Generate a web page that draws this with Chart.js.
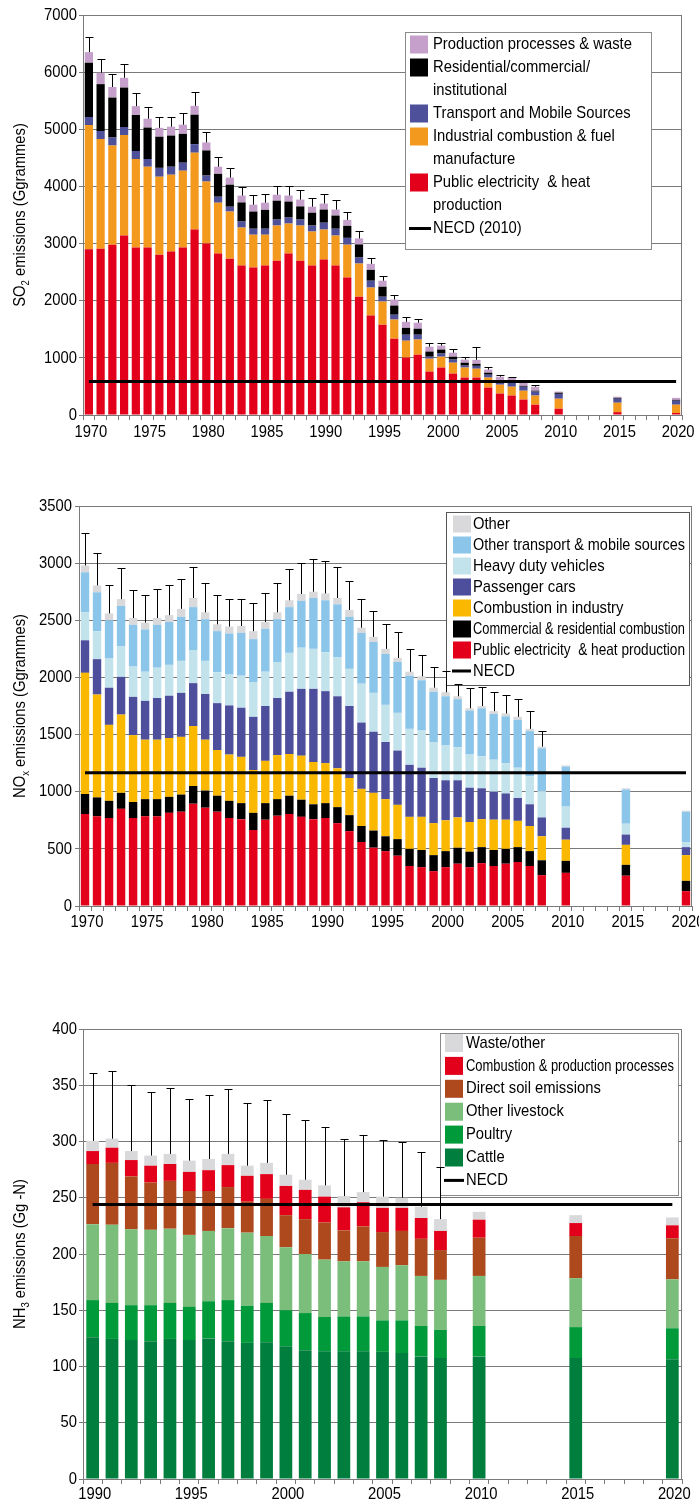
<!DOCTYPE html>
<html>
<head>
<meta charset="utf-8">
<script src="https://cdn.jsdelivr.net/npm/chart.js@4.4.1/dist/chart.umd.min.js"></script>
<style>
  body { margin: 0; width: 699px; height: 1503px; overflow: hidden; position: relative; background: #fff; }
  .panel { position: absolute; left: 0; }
</style>
</head>
<body>
<div class="panel" style="top:0"><canvas id="so2" width="699" height="445"></canvas></div>
<div class="panel" style="top:495px"><canvas id="nox" width="720" height="440"></canvas></div>
<div class="panel" style="top:1000px"><canvas id="nh3" width="699" height="503"></canvas></div>
<script>
var FONT = '"Liberation Sans", Arial, sans-serif';
var SIZE = 17;      // px
var SX = 0.87;      // horizontal squeeze, the original uses a narrow face

// ---- SO2 (Ggrammes) ----
var so2Years = [1970,1971,1972,1973,1974,1975,1976,1977,1978,1979,1980,1981,1982,1983,1984,1985,1986,1987,1988,1989,
  1990,1991,1992,1993,1994,1995,1996,1997,1998,1999,2000,2001,2002,2003,2004,2005,2006,2007,2008,2010,2015,2020];
var so2Public = [2900,2910,2980,3140,2930,2930,2805,2860,2930,3245, 3000,2825,2735,2615,2580,2615,2700,2825,2700,2615,
  2720,2615,2405,2070,1740,1580,1335,1005,1055,760, 830,725,655,655,480,375,340,270,180, 110,50,35];
var so2Industry = [2175,1920,1735,1760,1550,1415,1365,1345,1345,1345, 1085,890,825,665,575,540,615,525,615,595,
  525,525,575,580,490,405,335,295,265,225, 190,190,175,155,175,155,155,155,160, 175,165,145];
var so2Transport = [140,140,140,140,140,135,155,140,140,150, 105,105,85,105,105,105,105,105,105,105,
  120,120,120,105,120,85,85,105,85,35, 55,55,35,50,50,55,90,70,70, 85,70,70];
var so2Residential = [950,820,700,690,630,550,545,545,505,515, 440,400,385,335,300,330,330,280,230,225,
  230,230,210,230,190,175,160,120,105,90, 70,50,50,35,35,15,15,15,15, 20,15,15];
var so2Production = [185,200,185,170,155,155,155,155,160,155, 140,125,125,120,120,125,105,105,120,105,
  105,105,105,105,105,105,105,105,105,85, 70,70,55,70,55,70,55,55,70, 20,20,35];
var so2Upper = [6610,6225,5960,6135,5630,5395,5220,5220,5290,5645, 4960,4510,4315,3985,3850,3865,4005,4005,3935,3795,
  3865,3755,3545,3220,2740,2425,2095,1715,1680,1265, 1265,1155,1020,1195,845,705,670,600,525, null,null,null];
var so2Necd = 585;

// ---- NOx (Ggrammes) ----
var noxYears = so2Years;
var noxPublic = [805,785,770,850,770,785,785,815,825,895, 860,825,770,760,665,755,790,805,780,760,
  770,725,655,560,510,480,440,350,340,305, 340,370,340,375,350,370,385,350,270, 290,265,130];
var noxCommercial = [175,165,150,140,140,150,150,140,150,155, 150,140,150,140,150,145,145,160,150,130,
  130,140,140,140,150,130,145,150,150,140, 140,140,135,140,140,130,130,130,130, 105,95,90];
var noxIndustry = [1060,900,665,685,585,520,520,515,505,525, 445,400,405,405,375,370,385,365,385,370,
  350,340,325,325,330,325,300,280,290,280, 270,265,260,245,265,255,230,220,210, 185,175,225];
var noxCars = [285,310,325,330,335,340,365,370,385,375, 400,410,430,430,465,480,500,545,585,640,
  630,630,630,580,535,500,475,455,430,395, 350,325,300,270,245,230,200,190,165, 105,90,70];
var noxHeavy = [245,245,255,270,265,255,265,270,280,290, 290,270,270,280,305,300,315,340,360,350,
  340,340,325,340,340,325,330,315,325,315, 305,290,290,280,280,265,265,245,230, 185,95,45];
var noxOtherTransport = [350,340,335,350,365,370,375,375,385,375, 365,360,360,375,375,375,375,400,410,445,
  455,465,455,445,445,445,445,465,440,440, 430,420,385,420,400,410,420,395,375, 350,300,265];
var noxOther = [60,60,60,60,60,60,60,60,70,80, 60,60,60,60,70,60,60,60,60,55,
  60,55,60,45,45,45,35,35,35,35, 35,25,20,20,25,25,25,20,15, 10,10,10];
var noxUpper = [3265,3090,2810,2955,2765,2725,2775,2805,2860,2970, 2830,2720,2690,2690,2650,2735,2830,2945,3000,3035,
  3015,2970,2840,2690,2585,2470,2400,2245,2200,2095, 2060,1945,1905,1920,1875,1850,1815,1710,1530, null,null,null];
var noxNecd = 1167;

// ---- NH3 (Gg-N) ----
var nh3Years = [1990,1991,1992,1993,1994,1995,1996,1997,1998,1999,2000,2001,2002,2003,2004,2005,2006,2007,2008,2010,2015,2020];
var nh3Cattle = [126,124.5,123.5,122.5,124.5,123.5,125,122.5,121,121.5, 118,114.5,113.5,113.5,113.5,113,112,109,107.5, 109,107.5,106.5];
var nh3Poultry = [33,32,31,32,32,29.5,33,36.5,33,35, 32,33,30.5,31,31,28,29,27,25, 27,27.5,27.5];
var nh3OtherLivestock = [67.5,69.5,67.5,67,66,64,62.5,64,65,59.5, 56,52.5,51,49,49,47.5,49,44.5,44.5, 44.5,43.5,43.5];
var nh3Soil = [53.5,55,47,42,42.5,39,35.5,36.5,27.5,33, 28.5,31,33,27.5,31,31,30.5,33,26.5, 34,37.5,36.5];
var nh3Combustion = [11.5,13.5,14.5,15,15,17,18.5,19.5,23,22, 26,26,23,20.5,21.5,21.5,20.5,18.5,17, 16,11.5,11.5];
var nh3Waste = [9,8,8,9,9,10,10,10,9,10, 10,9,10,10,9,10,9,10,10.5, 7,7,7];
var nh3Upper = [361,363,350,344,347.5,338,341,346.5,334,337, 324,319,313,302,305.5,301,299.5,290.5,277, null,null,null];
var nh3Necd = 244;

// every year on the axis, bars only where there is data
function yearRange(a, b) { var r = []; for (var y = a; y <= b; y++) r.push(String(y)); return r; }
function onAxis(years, values, axis) {
  return axis.map(function (lab) { var i = years.indexOf(+lab); return i < 0 ? null : values[i]; });
}

// text squeezed sideways; maxW squeezes harder when a line would not fit
function narrowText(ctx, text, x, y, align, size, maxW) {
  ctx.save();
  ctx.font = size + 'px ' + FONT;
  ctx.textAlign = align;
  ctx.textBaseline = 'middle';
  var sx = SX;
  if (maxW) sx = Math.min(SX, maxW / ctx.measureText(text).width);
  ctx.translate(x, y);
  ctx.scale(sx, 1);
  ctx.fillText(text, 0, 0);
  ctx.restore();
}

// error bars (upper bound only) on top of the stacks
var errorBars = {
  id: 'errorBars',
  afterDraw: function (chart, args, o) {
    var ctx = chart.ctx, xs = chart.scales.x, ys = chart.scales.y;
    var bars = chart.data.datasets.filter(function (d) { return d.type !== 'line'; });
    ctx.save();
    ctx.strokeStyle = '#000';
    ctx.lineWidth = 1;
    o.values.forEach(function (v, i) {
      if (v == null) return;
      var top = 0;
      bars.forEach(function (d) { top += d.data[i] || 0; });
      var x = Math.round(xs.getPixelForValue(i)) + 0.5;
      var y0 = ys.getPixelForValue(top), y1 = Math.round(ys.getPixelForValue(v)) + 0.5;
      ctx.beginPath();
      ctx.moveTo(x, y0); ctx.lineTo(x, y1);
      ctx.moveTo(x - o.cap, y1); ctx.lineTo(x + o.cap, y1);
      ctx.stroke();
    });
    ctx.restore();
  }
};

// tick labels, drawn narrow
var narrowTicks = {
  id: 'narrowTicks',
  afterDraw: function (chart, args, o) {
    var ctx = chart.ctx, a = chart.chartArea, xs = chart.scales.x, ys = chart.scales.y;
    ctx.fillStyle = '#000';
    ys.ticks.forEach(function (t) {
      narrowText(ctx, String(t.value), a.left - o.yGap, ys.getPixelForValue(t.value), 'right', SIZE);
    });
    chart.data.labels.forEach(function (lab, i) {
      if (+lab % 5 === 0) narrowText(ctx, lab, xs.getPixelForValue(i) + o.xShift, a.bottom + o.xDrop, 'center', SIZE);
    });
  }
};

// boxed legend sitting inside the plot, top right
var boxLegend = {
  id: 'boxLegend',
  afterDatasetsDraw: function (chart, args, o) {
    var ctx = chart.ctx, a = chart.chartArea;
    var ds = chart.data.datasets;
    var items = ds.filter(function (d) { return d.type !== 'line'; }).reverse()
      .concat(ds.filter(function (d) { return d.type === 'line'; }));
    var bx = a.right - o.right - o.width, by = a.top + o.top;
    ctx.save();
    ctx.fillStyle = '#fff';
    ctx.fillRect(bx, by, o.width, o.height);
    ctx.strokeStyle = o.border;
    ctx.lineWidth = 1;
    ctx.strokeRect(Math.round(bx) + 0.5, Math.round(by) + 0.5, o.width, o.height);
    var line = 0;
    items.forEach(function (d) {
      var cy = by + o.first + line * o.lh;
      if (d.type === 'line') {
        ctx.fillStyle = '#000';
        ctx.fillRect(bx + o.swX - 1, cy - 1.5, o.textX - o.swX - 1, 3);
      } else {
        ctx.fillStyle = d.backgroundColor;
        ctx.fillRect(bx + o.swX, cy - o.sw / 2, 18, o.sw);
      }
      ctx.fillStyle = '#000';
      d.label.split('\n').forEach(function (t) {
        narrowText(ctx, t, bx + o.textX, by + o.first + line * o.lh, 'left', SIZE, o.width - o.textX - 4);
        line++;
      });
    });
    ctx.restore();
  }
};

// rotated y title with a subscript
var axisTitle = {
  id: 'axisTitle',
  afterDraw: function (chart, args, o) {
    var ctx = chart.ctx, a = chart.chartArea;
    var big = SIZE + 'px ' + FONT, small = Math.round(SIZE * 0.65) + 'px ' + FONT;
    ctx.save();
    ctx.translate(o.x, (a.top + a.bottom) / 2);
    ctx.rotate(-Math.PI / 2);
    ctx.scale(SX, 1);
    ctx.fillStyle = '#000';
    ctx.textBaseline = 'middle';
    ctx.textAlign = 'left';
    var w = 0;
    o.parts.forEach(function (p) { ctx.font = p[1] ? small : big; w += ctx.measureText(p[0]).width; });
    var cx = -w / 2;
    o.parts.forEach(function (p) {
      ctx.font = p[1] ? small : big;
      ctx.fillText(p[0], cx, p[1] ? 6 : 0);
      cx += ctx.measureText(p[0]).width;
    });
    ctx.restore();
  }
};

// plot frame
var frame = {
  id: 'frame',
  beforeDatasetsDraw: function (chart) {
    var ctx = chart.ctx, a = chart.chartArea;
    ctx.save();
    ctx.strokeStyle = '#7a7a7a';
    ctx.lineWidth = 1;
    ctx.strokeRect(Math.round(a.left) + 0.5, Math.round(a.top) + 0.5, Math.round(a.right - a.left) - 1, Math.round(a.bottom - a.top));
    ctx.restore();
  }
};

function makeChart(id, cfg) {
  var labels = cfg.labels;
  var datasets = cfg.series.map(function (s) {
    return {
      label: s.label, data: onAxis(cfg.years, s.values, labels),
      backgroundColor: s.color, borderWidth: 0,
      categoryPercentage: 1, barPercentage: cfg.barPct
    };
  });
  datasets.push({
    type: 'line', label: cfg.necdLabel, stack: 'necd', order: -1,
    data: [{ x: labels[0], y: cfg.necd }, { x: labels[labels.length - 1], y: cfg.necd }],
    borderColor: '#000', borderWidth: 3, pointRadius: 0, fill: false
  });
  return new Chart(document.getElementById(id), {
    type: 'bar',
    data: { labels: labels, datasets: datasets },
    plugins: [frame, boxLegend, errorBars, narrowTicks, axisTitle],
    options: {
      responsive: false, animation: false, devicePixelRatio: 1,
      layout: { padding: { top: cfg.padTop, right: cfg.padRight, bottom: 0, left: 0 } },
      scales: {
        x: {
          stacked: true, offset: true,
          grid: { display: true, drawOnChartArea: false, offset: true, tickLength: 5, color: '#7a7a7a' },
          border: { color: '#7a7a7a' },
          ticks: { display: false, autoSkip: false },
          afterFit: function (s) { s.height = cfg.xHeight; }
        },
        y: {
          stacked: true, min: 0, max: cfg.max,
          grid: { color: '#7a7a7a', tickLength: 4 },
          border: { color: '#7a7a7a' },
          ticks: { display: false, stepSize: cfg.step },
          afterFit: function (s) { s.width = cfg.yWidth; }
        }
      },
      plugins: {
        legend: { display: false }, tooltip: { enabled: false },
        errorBars: { values: onAxis(cfg.years, cfg.upper, labels), cap: 4 },
        narrowTicks: cfg.ticks,
        boxLegend: cfg.legend,
        axisTitle: { x: 20, parts: cfg.title }
      }
    }
  });
}

makeChart('so2', {
  labels: yearRange(1970, 2020), years: so2Years, upper: so2Upper, necd: so2Necd, necdLabel: 'NECD (2010)',
  series: [
    { label: 'Public electricity  & heat\nproduction', values: so2Public, color: '#e2001a' },
    { label: 'Industrial combustion & fuel\nmanufacture', values: so2Industry, color: '#f39a1e' },
    { label: 'Transport and Mobile Sources', values: so2Transport, color: '#4f509a' },
    { label: 'Residential/commercial/\ninstitutional', values: so2Residential, color: '#000000' },
    { label: 'Production processes & waste', values: so2Production, color: '#c4a0cb' }
  ],
  max: 7000, step: 1000, barPct: 0.7,
  padTop: 15, padRight: 17, xHeight: 30, yWidth: 83,
  ticks: { yGap: 6, xShift: 2, xDrop: 17 },
  title: [['SO', 0], ['2', 1], [' emissions (Ggrammes)', 0]],
  legend: { right: 31, top: 17, width: 246, height: 217, first: 12.5, lh: 23, swX: 5, sw: 18, textX: 28, border: '#8a8a8a' }
});

makeChart('nox', {
  labels: yearRange(1970, 2020), years: noxYears, upper: noxUpper, necd: noxNecd, necdLabel: 'NECD',
  series: [
    { label: 'Public electricity  & heat production', values: noxPublic, color: '#e2001a' },
    { label: 'Commercial & residential combustion', values: noxCommercial, color: '#000000' },
    { label: 'Combustion in industry', values: noxIndustry, color: '#fab800' },
    { label: 'Passenger cars', values: noxCars, color: '#4e4f9c' },
    { label: 'Heavy duty vehicles', values: noxHeavy, color: '#c2e3ec' },
    { label: 'Other transport & mobile sources', values: noxOtherTransport, color: '#8bc5ea' },
    { label: 'Other', values: noxOther, color: '#d9d9db' }
  ],
  max: 3500, step: 500, barPct: 0.7,
  padTop: 11, padRight: 28, xHeight: 29, yWidth: 79,
  ticks: { yGap: 7, xShift: 2, xDrop: 16.5 },
  title: [['NO', 0], ['x', 1], [' emissions (Ggrammes)', 0]],
  legend: { right: 3, top: 6, width: 243, height: 173, first: 12, lh: 21, swX: 7, sw: 17, textX: 27, border: '#555' }
});

makeChart('nh3', {
  labels: yearRange(1990, 2020), years: nh3Years, upper: nh3Upper, necd: nh3Necd, necdLabel: 'NECD',
  series: [
    { label: 'Cattle', values: nh3Cattle, color: '#007e3e' },
    { label: 'Poultry', values: nh3Poultry, color: '#009a3a' },
    { label: 'Other livestock', values: nh3OtherLivestock, color: '#7bbd7b' },
    { label: 'Direct soil emissions', values: nh3Soil, color: '#ae481d' },
    { label: 'Combustion & production processes', values: nh3Combustion, color: '#e2001a' },
    { label: 'Waste/other', values: nh3Waste, color: '#d9d9db' }
  ],
  max: 400, step: 50, barPct: 0.66,
  padTop: 29, padRight: 17, xHeight: 24, yWidth: 83,
  ticks: { yGap: 6, xShift: 2, xDrop: 15 },
  title: [['NH', 0], ['3', 1], [' emissions (Gg -N)', 0]],
  legend: { right: 4, top: 4, width: 238, height: 162, first: 10, lh: 22.9, swX: 5, sw: 18, textX: 26, border: '#8a8a8a' }
});
</script>
</body>
</html>
